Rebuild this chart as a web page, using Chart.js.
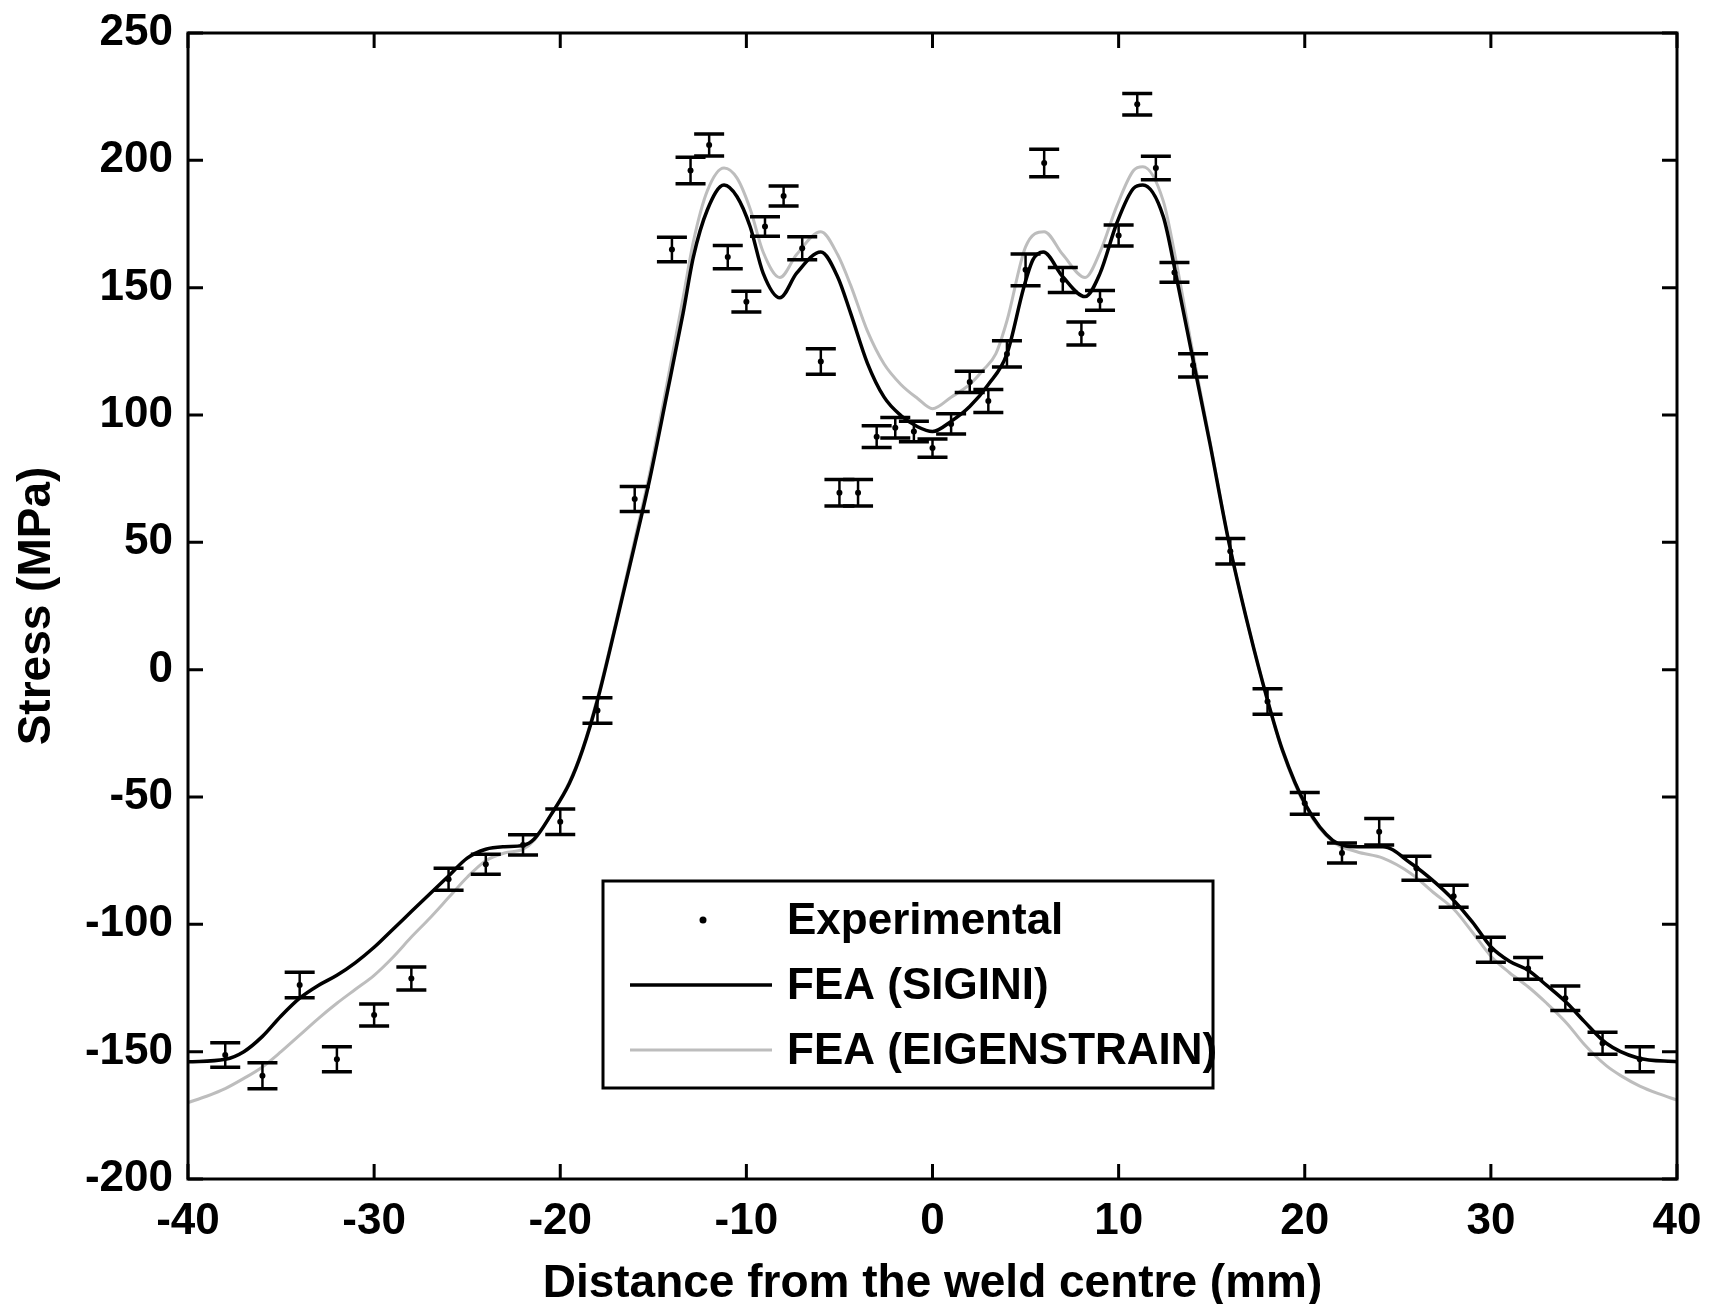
<!DOCTYPE html>
<html>
<head>
<meta charset="utf-8">
<title>Stress across the weld</title>
<script src="https://cdn.jsdelivr.net/npm/chart.js@4.4.1/dist/chart.umd.min.js"></script>
<style>
  body { margin: 0; background: #fff; }
  #wrap { width: 1710px; height: 1304px; }
</style>
</head>
<body>
<div id="wrap"><canvas id="stressChart" width="1710" height="1304"></canvas></div>
<script>
// Experimental points: distance (mm), stress (MPa), +/- error (MPa)
var expX = [-38, -36, -34, -32, -30, -28, -26, -24, -22, -20,
            -18, -16, -14, -13, -12, -11, -10, -9, -8, -7,
            -6, -5, -4, -3, -2, -1, 0, 1, 2, 3,
            4, 5, 6, 7, 8, 9, 10, 11, 12, 13, 14,
            16, 18, 20, 22, 24, 26, 28, 30, 32, 34, 36, 38];
var expY = [-151.3, -159.5, -123.8, -153, -135.6, -121.3, -82.3, -76.4, -68.8, -59.7,
            -16, 67, 165, 196, 206, 162, 144.5, 174, 186, 165.5,
            121, 69.5, 69.5, 91.5, 95, 93.5, 87, 96.5, 113, 105.5,
            124, 157, 199, 153, 132, 145, 170.5, 222, 197, 156, 119.5,
            46.5, -12.5, -52.5, -72, -63.6, -78, -89, -110, -117.3, -129, -146.7, -153];
var expErr = [4.8, 5.1, 5, 4.9, 4.3, 4.5, 4.3, 3.9, 4, 5,
              5, 4.9, 4.8, 5.2, 4.3, 4.6, 4.1, 3.8, 3.9, 4.5,
              5, 5.2, 5.2, 4.3, 4, 4, 3.6, 4, 4.2, 4.5,
              5.2, 6.2, 5.4, 4.9, 4.5, 3.9, 4.1, 4.2, 4.6, 3.9, 4.6,
              5, 5, 4.3, 3.9, 5.2, 4.7, 4.3, 4.9, 4.3, 4.8, 4.3, 4.9];

// FEA (SIGINI) curve
var sigX = [-40, -38, -37, -36, -35, -34, -33, -32, -31, -30, -29, -28, -27, -26, -25, -24, -23, -22,
            -21.4, -20.5, -19.5, -18.8, -18, -17, -16, -15.2, -14.3, -13.4, -12.85, -12.1, -11.2,
            -10.5, -9.8, -9.1, -8.2, -7.3, -6, -5.1, -4.4, -3.5, -2.6, -1.7, -0.8, 0,
            1, 2, 3, 4, 4.9, 5.4, 5.95, 7, 8.2, 9, 9.9, 10.8, 11.3, 12.4, 13.1, 14, 14.9, 15.9,
            17, 18, 18.8, 20.1, 21.5, 22.8, 24.2, 25.7, 27, 27.8, 29, 30, 31, 32, 33, 34.1, 35, 36.2, 37.9, 40];
var sigY = [-154, -153, -150, -144, -136, -129, -124, -120, -115, -109, -102, -95, -88, -81, -74, -70.5, -69.5, -69,
            -66.5, -57, -44.5, -31.5, -12, 18, 49, 74.5, 107, 140, 162, 180.5, 190.3,
            185.7, 174, 155.7, 146, 155.7, 164, 154.3, 140, 120.4, 107, 99.8, 95.4, 93.5,
            97.5, 103.3, 112, 124, 150, 161, 164, 154.3, 146.5, 155.6, 175.3, 189, 190.3, 177.9, 154.3, 121.6, 89, 50.9,
            16, -12, -31.5, -53.8, -67, -69.5, -69.5, -76, -83.5, -89, -99, -108.8, -114.5, -118, -124, -131, -138, -146.7, -152.5, -154];

// FEA (EIGENSTRAIN) curve
var eigX = [-40, -39, -38, -37, -36, -35, -34, -33, -32, -31, -30, -29, -28, -27, -26, -25, -24, -23, -22,
            -21.4, -20.5, -19.5, -18.8, -18, -17, -16, -15.2, -14.3, -13.4, -12.85, -12.1, -11.2,
            -10.5, -9.8, -9.1, -8.2, -7.3, -6, -5.1, -4.4, -3.5, -2.6, -1.7, -0.8, 0,
            1, 2, 2.7, 3.4, 4, 5, 6, 7, 8.2, 9, 9.9, 10.8, 11.3, 12.4, 13.1, 14, 14.9, 15.9,
            17, 18, 18.8, 20.1, 21.5, 22.8, 24.2, 25.7, 27, 28, 29, 30, 31, 32, 33, 34.1, 35, 36.2, 37, 38, 39, 40];
var eigY = [-170, -167.5, -164.5, -160.5, -156, -150, -143.5, -137, -131, -125.5, -120, -113, -105, -97.5, -89.5, -81.5, -75, -72, -70.5,
            -67, -57, -44, -31, -11, 19, 51, 77, 111, 146, 168, 188, 197,
            193, 181, 164, 154, 163, 172, 163, 151, 133, 120, 112, 106.5, 102.5,
            107, 112, 117.5, 124, 137, 166, 172, 163, 154, 164, 182, 196, 197.5, 184, 160, 124, 90, 51,
            16, -12, -32, -54.5, -67.5, -71.5, -74, -80, -88, -94, -103, -112.5, -119, -124.5, -131, -139, -147, -155.5, -159.5, -163.5, -166.5, -169];

var xTicks = [-40, -30, -20, -10, 0, 10, 20, 30, 40];
var yTicks = [-200, -150, -100, -50, 0, 50, 100, 150, 200, 250];

var fontFamily = "'Liberation Sans', Arial, Helvetica, sans-serif";

function toPoints(xs, ys) {
  return xs.map(function(x, i) { return {x: x, y: ys[i]}; });
}

// error bars, inward tick marks and the box, drawn on top of the lines
var frameAndBars = {
  id: 'frameAndBars',
  afterDatasetsDraw: function(chart) {
    var ctx = chart.ctx;
    var xs = chart.scales.x;
    var ys = chart.scales.y;
    var a = chart.chartArea;
    var capHalf = 15;
    var tickLen = 15;

    ctx.save();
    ctx.strokeStyle = '#000';
    ctx.lineCap = 'butt';
    for (var i = 0; i < expX.length; i++) {
      var px = xs.getPixelForValue(expX[i]);
      var top = ys.getPixelForValue(expY[i] + expErr[i]);
      var bot = ys.getPixelForValue(expY[i] - expErr[i]);
      ctx.lineWidth = 2.5;
      ctx.beginPath();
      ctx.moveTo(px, top);
      ctx.lineTo(px, bot);
      ctx.stroke();
      ctx.lineWidth = 3.5;
      ctx.beginPath();
      ctx.moveTo(px - capHalf, top);
      ctx.lineTo(px + capHalf, top);
      ctx.moveTo(px - capHalf, bot);
      ctx.lineTo(px + capHalf, bot);
      ctx.stroke();
    }

    ctx.lineWidth = 3;
    ctx.beginPath();
    xTicks.forEach(function(v) {
      var p = xs.getPixelForValue(v);
      ctx.moveTo(p, a.bottom);
      ctx.lineTo(p, a.bottom - tickLen);
      ctx.moveTo(p, a.top);
      ctx.lineTo(p, a.top + tickLen);
    });
    yTicks.forEach(function(v) {
      var p = ys.getPixelForValue(v);
      ctx.moveTo(a.left, p);
      ctx.lineTo(a.left + tickLen, p);
      ctx.moveTo(a.right, p);
      ctx.lineTo(a.right - tickLen, p);
    });
    ctx.stroke();
    ctx.strokeRect(a.left, a.top, a.right - a.left, a.bottom - a.top);
    ctx.restore();
  },
  afterDraw: function(chart) {
    // legend box inside the plot, MATLAB style
    var ctx = chart.ctx;
    var ds = chart.data.datasets;
    var box = {left: 603, top: 881, width: 610, height: 207};
    var rows = [920, 985, 1050];
    var order = [2, 0, 1];
    ctx.save();
    ctx.fillStyle = '#fff';
    ctx.fillRect(box.left, box.top, box.width, box.height);
    ctx.strokeStyle = '#000';
    ctx.lineWidth = 3;
    ctx.strokeRect(box.left, box.top, box.width, box.height);
    ctx.font = 'bold 44px ' + fontFamily;
    ctx.textBaseline = 'middle';
    ctx.textAlign = 'left';
    order.forEach(function(idx, r) {
      var d = ds[idx];
      var y = rows[r];
      if (d.showLine) {
        ctx.strokeStyle = d.borderColor;
        ctx.lineWidth = d.borderWidth;
        ctx.beginPath();
        ctx.moveTo(630, y);
        ctx.lineTo(772, y);
        ctx.stroke();
      } else {
        ctx.fillStyle = d.backgroundColor;
        ctx.beginPath();
        ctx.arc(703, y, 3.5, 0, Math.PI * 2);
        ctx.fill();
      }
      ctx.fillStyle = '#000';
      ctx.fillText(d.label, 787, y + 2);
    });
    ctx.restore();
  }
};

var ctx = document.getElementById('stressChart');
var stressChart = new Chart(ctx, {
  type: 'scatter',
  data: {
    datasets: [
      {
        label: 'FEA (SIGINI)',
        data: toPoints(sigX, sigY),
        showLine: true,
        borderColor: '#000',
        borderWidth: 3.5,
        pointRadius: 0,
        cubicInterpolationMode: 'monotone',
        order: 2
      },
      {
        label: 'FEA (EIGENSTRAIN)',
        data: toPoints(eigX, eigY),
        showLine: true,
        borderColor: '#bdbdbd',
        borderWidth: 3,
        pointRadius: 0,
        cubicInterpolationMode: 'monotone',
        order: 3
      },
      {
        label: 'Experimental',
        data: toPoints(expX, expY),
        showLine: false,
        backgroundColor: '#000',
        borderColor: '#000',
        pointRadius: 3,
        pointBorderWidth: 0,
        order: 1
      }
    ]
  },
  options: {
    responsive: false,
    animation: false,
    events: [],
    layout: { padding: { top: 33, right: 33, left: 0, bottom: 0 } },
    plugins: {
      legend: { display: false },
      tooltip: { enabled: false }
    },
    scales: {
      x: {
        type: 'linear',
        min: -40,
        max: 40,
        afterFit: function(scale) {
          scale.height = 125;
          scale.paddingLeft = 0;
          scale.paddingRight = 0;
        },
        afterBuildTicks: function(scale) {
          scale.ticks = xTicks.map(function(v) { return {value: v}; });
        },
        grid: { display: false, drawTicks: false },
        border: { display: false },
        ticks: {
          color: '#000',
          padding: 16,
          autoSkip: false,
          maxRotation: 0,
          font: { family: fontFamily, size: 44, weight: 'bold' }
        },
        title: {
          display: true,
          text: 'Distance from the weld centre (mm)',
          color: '#000',
          padding: { top: 0, bottom: -8 },
          font: { family: fontFamily, size: 46, weight: 'bold' }
        }
      },
      y: {
        type: 'linear',
        min: -200,
        max: 250,
        afterFit: function(scale) {
          scale.width = 188;
          scale.paddingTop = 0;
          scale.paddingBottom = 0;
        },
        afterBuildTicks: function(scale) {
          scale.ticks = yTicks.map(function(v) { return {value: v}; });
        },
        grid: { display: false, drawTicks: false },
        border: { display: false },
        ticks: {
          color: '#000',
          padding: 15,
          autoSkip: false,
          font: { family: fontFamily, size: 44, weight: 'bold' }
        },
        title: {
          display: true,
          text: 'Stress (MPa)',
          color: '#000',
          padding: { top: 10, bottom: 0 },
          font: { family: fontFamily, size: 46, weight: 'bold' }
        }
      }
    }
  },
  plugins: [frameAndBars]
});
</script>
</body>
</html>
